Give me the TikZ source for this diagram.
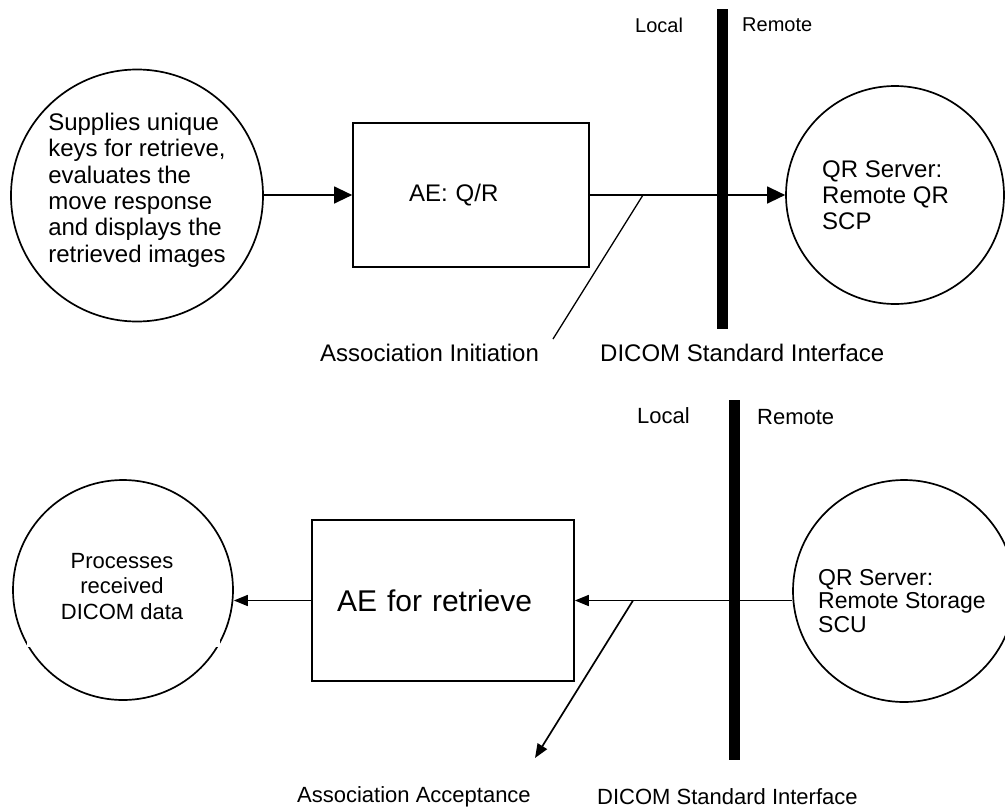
\documentclass[tikz,border=0pt]{standalone}
\usepackage{fontspec}
\setmainfont{Liberation Sans}
\usetikzlibrary{arrows.meta}
\tikzset{
  shapeline/.style={draw, line width=1.7pt},
  bigcircle/.style={shapeline, circle, inner sep=0pt},
  boxshape/.style={shapeline, rectangle, inner sep=0pt},
  lbl/.style={inner sep=0pt, anchor=west},
  thinconn/.style={line width=1.3pt},
  bigarrow/.style={thinconn, -{Triangle[length=18pt,width=17pt]}},
  thickconn/.style={line width=1.7pt},
  smallarrow/.style={thickconn, -{Triangle[length=14pt,width=11pt]}},
  barline/.style={line width=11pt},
  fA/.style={font=\fontsize{24}{26.4}\selectfont},
  fB/.style={font=\fontsize{24}{26}\selectfont},
  fC/.style={font=\fontsize{23}{23.5}\selectfont},
  fD/.style={font=\fontsize{22}{25.5}\selectfont},
  fE/.style={font=\fontsize{30}{33}\selectfont},
  fLocTop/.style={font=\fontsize{20}{22}\selectfont},
  fLocBot/.style={font=\fontsize{22}{24}\selectfont},
}
\begin{document}
\begin{tikzpicture}[x=1pt,y=-1pt]
\useasboundingbox (0,0) rectangle (1005,809);

% ---------- top diagram ----------
\node[bigcircle, minimum size=252pt] (c1) at (137,195.5) {};
\node[fA, align=left, inner sep=0pt] (c1t) at (137,190) {Supplies unique\\keys for retrieve,\\evaluates the\\move response\\and displays the\\retrieved images};

\node[boxshape, minimum width=236pt, minimum height=144pt, text width=124pt, inner xsep=56pt, align=left, fA] (ae1) at (471,195) {AE: Q/R};

\node[bigcircle, minimum size=218pt] (c2) at (895,195) {};
\node[fB, lbl, align=left] (c2t) at (822,195.4) {QR Server:\\Remote QR\\SCP};

\draw[bigarrow] (c1.east |- ae1.west) -- (ae1.west);
\draw[bigarrow] (ae1.east) -- (c2.west);
\coordinate (j1) at (643,195);
\coordinate (j1e) at (553,339);
\draw[thinconn] (j1) -- (j1e);

\coordinate (b1t) at (722.5,9);
\coordinate (b1b) at (722.5,329);
\draw[barline] (b1t) -- (b1b);

\node[fLocTop, lbl] (loc1) at (635,25) {Local};
\node[fLocTop, lbl] (rem1) at (742,25) {Remote};
\node[fA, lbl] (ai) at (320,353) {Association Initiation};
\node[fA, lbl] (dsi1) at (600,353) {DICOM Standard Interface};

% ---------- bottom diagram ----------
\node[bigcircle, minimum size=220pt] (c3) at (123,590) {};
\fill[white] (27,640) rectangle (220,647);
\node[fD, align=center, inner sep=0pt] (c3t) at (122,586.5) {Processes\\received\\DICOM data};

\node[boxshape, minimum width=262pt, minimum height=161pt, text width=212pt, inner xsep=25pt, align=left, fE] (ae2) at (443,600.5) {AE for retrieve};

\node[bigcircle, minimum size=222pt] (c4) at (904,591) {};
\node[fC, lbl, align=left] (c4t) at (818,601) {QR Server:\\Remote Storage\\SCU};

\draw[smallarrow] (c4.west |- ae2.east) -- (ae2.east);
\draw[smallarrow] (ae2.west) -- (c3.east |- ae2.west);
\coordinate (j2) at (633,600.5);
\coordinate (j2e) at (535,758);
\draw[smallarrow] (j2) -- (j2e);

\coordinate (b2t) at (734,400);
\coordinate (b2b) at (734,760);
\draw[barline] (b2t) -- (b2b);

\node[fLocBot, lbl] (loc2) at (637,416) {Local};
\node[fLocBot, lbl] (rem2) at (757,417) {Remote};
\node[fLocBot, lbl] (aa) at (297,797) {Association Acceptance};
\node[fLocBot, lbl] (dsi2) at (597,797) {DICOM Standard Interface};
\end{tikzpicture}
\end{document}
